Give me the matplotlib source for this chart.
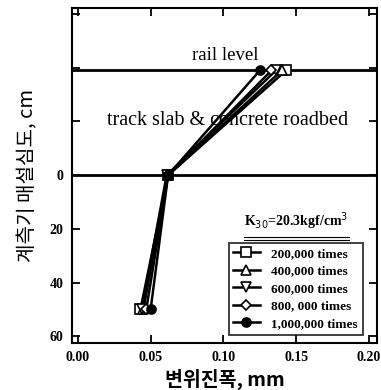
import matplotlib.pyplot as plt

plt.rcParams['font.family'] = ['Liberation Serif', 'DejaVu Serif']

# depth of gauge (cm), negative = above roadbed surface
depth = [-39, 0, 50]
amp_200k = [0.143, 0.062, 0.043]
amp_400k = [0.140, 0.062, 0.045]
amp_600k = [0.136, 0.061, 0.044]
amp_800k = [0.133, 0.062, 0.047]
amp_1m = [0.125, 0.062, 0.050]

labels = ['200,000 times', '400,000 times', '600,000 times',
          '800, 000 times', '1,000,000 times']
markers = ['s', '^', 'v', 'D', 'o']
fills = ['white', 'white', 'white', 'white', 'black']
sizes = [6.5, 6.5, 6.5, 5, 6.5]
series = [amp_200k, amp_400k, amp_600k, amp_800k, amp_1m]

xticks = [0.0, 0.05, 0.10, 0.15, 0.20]
xtick_labels = ['0.00', '0.05', '0.10', '0.15', '0.20']
yticks = [-60, -40, -20, 0, 20, 40, 60]
ytick_labels = ['', '', '', '0', '20', '40', '60']

rail_level = -39
roadbed = 0

fig = plt.figure(figsize=(3.81, 3.90), dpi=100)
ax = fig.add_axes([0.189, 0.1205, 0.8005, 0.8585])

ax.axhline(rail_level, color='black', lw=2)
ax.axhline(roadbed, color='black', lw=2)

for x, lab, m, fc, ms in zip(series, labels, markers, fills, sizes):
    ax.plot(x, depth, color='black', lw=1.8, marker=m, mfc=fc, mec='black',
            ms=ms, mew=1.2, label=lab)

ax.set_xlim(-0.004, 0.2055)
ax.set_ylim(62.5, -62.2)
tickfont = {'family': 'Liberation Serif', 'weight': 'bold', 'size': 10}
ax.set_xticks(xticks)
ax.set_xticklabels(xtick_labels, fontdict=tickfont)
ax.set_yticks(yticks)
ax.set_yticklabels(ytick_labels, fontdict=tickfont)
ax.tick_params(direction='in', top=True, right=True, length=6, width=1.3,
               pad=6)
for s in ax.spines.values():
    s.set_linewidth(1.5)

ax.text(0.101, -41.5, 'rail level', ha='center', va='bottom', fontsize=13.5)
ax.text(0.103, -20.5, 'track slab & concrete roadbed', ha='center',
        va='center', fontsize=14.5)

ax.text(0.150, 21, r'K$_{30}$=20.3kgf/cm$^3$', ha='center', va='bottom',
        fontsize=10, fontweight='bold')
ax.plot([0.114, 0.186], [23.0, 23.0], color='black', lw=0.8)
ax.plot([0.114, 0.186], [24.2, 24.2], color='black', lw=0.8)

leg = ax.legend(loc='lower right', bbox_to_anchor=(0.953, 0.025),
                prop={'family': 'Liberation Serif', 'weight': 'bold', 'size': 9.5},
                frameon=True, fancybox=False, edgecolor='black',
                handlelength=2.0, labelspacing=0.4, borderpad=0.35,
                handletextpad=0.9, borderaxespad=0)
leg.get_frame().set_linewidth(1.3)

ax.set_xlabel('변위진폭, mm', family=['Noto Sans CJK KR', 'DejaVu Sans'],
              fontsize=14, fontweight='bold', labelpad=3)
ax.set_ylabel('계측기 매설심도, cm', family=['Noto Sans CJK KR', 'DejaVu Sans'],
              fontsize=14.5, fontweight='medium', labelpad=8)

fig.savefig('out.png', dpi=100)
